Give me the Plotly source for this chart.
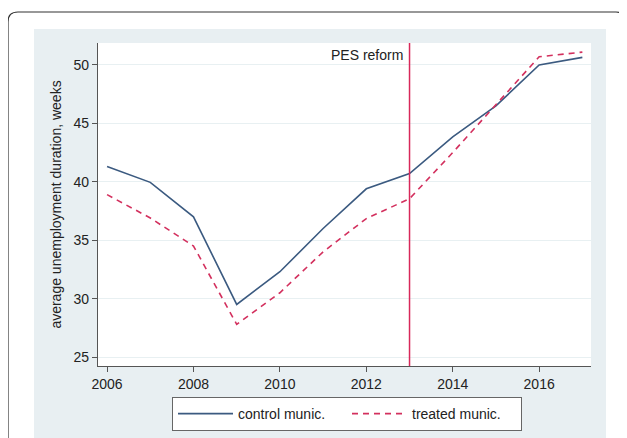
import plotly.graph_objects as go

years = [2006, 2007, 2008, 2009, 2010, 2011, 2012, 2013, 2014, 2015, 2016, 2017]
control = [41.3, 39.95, 37.0, 29.5, 32.3, 36.0, 39.4, 40.7, 43.85, 46.5, 50.0, 50.65]
treated = [38.9, 36.9, 34.5, 27.8, 30.5, 34.0, 36.85, 38.55, 42.5, 46.6, 50.7, 51.1]
reform_year = 2013
reform_label = "PES reform"
y_ticks = [25, 30, 35, 40, 45, 50]
x_ticks = [2006, 2008, 2010, 2012, 2014, 2016]

OFF = 8  # page body margin
WIN_W, WIN_H = 627, 438
W, H = WIN_W - OFF, WIN_H - OFF
L, R, T, B = 98, 591, 43, 366   # plot area in window pixels
pw, ph = R - L, B - T

def px(x):
    return (x - L) / pw

def py(y):
    return (B - y) / ph

font = dict(family="Liberation Sans, Arial, sans-serif", size=14, color="#222222")

fig = go.Figure()
fig.add_trace(go.Scatter(x=years, y=control, mode="lines", name="control munic.",
                         line=dict(color="#3b5a80", width=1.6)))
fig.add_trace(go.Scatter(x=years, y=treated, mode="lines", name="treated munic.",
                         line=dict(color="#d3305e", width=1.6, dash="6px,5px")))

rx, ry = 10 / pw, 10 / ph
xl, xr, yt, yb = px(8), px(626), py(12), py(460)
outer = (f"M {xl},{yb} L {xl},{yt - ry} Q {xl},{yt} {xl + rx},{yt} "
         f"L {xr - rx},{yt} Q {xr},{yt} {xr},{yt - ry}")

shapes = [
    dict(type="rect", xref="paper", yref="paper", x0=px(34), x1=px(606), y0=py(460), y1=py(29),
         fillcolor="#e8eff2", line=dict(width=0), layer="below"),
    dict(type="rect", xref="paper", yref="paper", x0=0, x1=1, y0=0, y1=1,
         fillcolor="white", line=dict(width=0), layer="below"),
    dict(type="path", xref="paper", yref="paper", path=outer,
         line=dict(color="#333333", width=1.2), layer="below"),
    dict(type="line", xref="x", yref="paper", x0=reform_year, x1=reform_year, y0=0, y1=1,
         line=dict(color="#d8285a", width=1.5)),
]

fig.update_layout(
    width=W, height=H,
    margin=dict(l=L - OFF, r=WIN_W - R, t=T - OFF, b=WIN_H - B, autoexpand=False),
    paper_bgcolor="white", plot_bgcolor="white",
    font=font,
    shapes=shapes,
    annotations=[dict(x=reform_year, y=py(55), xref="x", yref="paper", text=reform_label,
                      showarrow=False, xanchor="right", yanchor="middle", xshift=-5,
                      font=font)],
    xaxis=dict(range=[2005.79, 2017.2], tickvals=x_ticks, ticks="outside", ticklen=5,
               tickcolor="#555555", showline=True, linecolor="#555555", linewidth=1.2,
               showgrid=False, zeroline=False, tickfont=font),
    yaxis=dict(range=[24.23, 51.88], tickvals=y_ticks, ticks="outside", ticklen=5,
               tickcolor="#555555", showline=True, linecolor="#555555", linewidth=1.2,
               showgrid=True, gridcolor="#e8f0f2", gridwidth=1, zeroline=False, tickfont=font,
               title=dict(text="average unemployment duration, weeks", font=font, standoff=8)),
    legend=dict(orientation="h", x=px(172), xanchor="left", y=py(397), yanchor="top",
                bgcolor="white", bordercolor="#666666", borderwidth=1, font=font,
                itemwidth=55, entrywidth=104, tracegroupgap=0),
    showlegend=True,
)

fig.write_html("out.html")
